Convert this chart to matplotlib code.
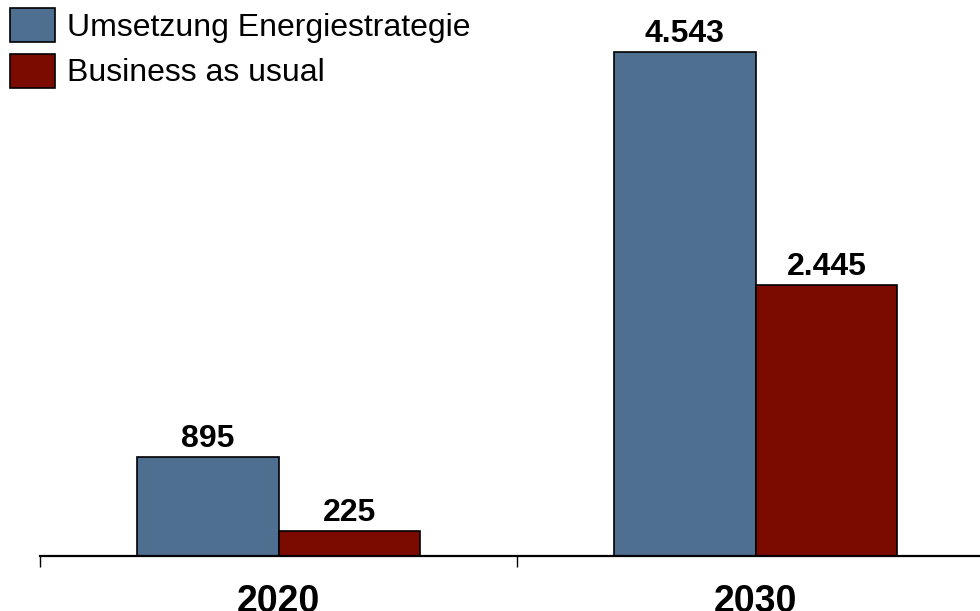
import matplotlib
matplotlib.use("Agg")
import matplotlib.pyplot as plt
from matplotlib.patches import Patch

years = ["2020", "2030"]
series_names = ["Umsetzung Energiestrategie", "Business as usual"]
umsetzung = [895, 4543]
business = [225, 2445]
colors = ["#4F6F91", "#7B0A00"]

def fmt(v):
    return f"{v:,}".replace(",", ".")

plt.rcParams["font.family"] = ["Liberation Sans", "DejaVu Sans"]

fig = plt.figure(figsize=(9.8, 6.11), dpi=100)
W, H = 980, 611
ax = fig.add_axes([40 / W, (H - 556) / H, 1 - 40 / W, 556 / H])

x = list(range(len(years)))
bw = 0.297
b1 = ax.bar([i - bw / 2 for i in x], umsetzung, bw, color=colors[0],
            edgecolor="black", linewidth=1.2, label=series_names[0])
b2 = ax.bar([i + bw / 2 for i in x], business, bw, color=colors[1],
            edgecolor="black", linewidth=1.2, label=series_names[1])

for bars, vals in ((b1, umsetzung), (b2, business)):
    ax.bar_label(bars, labels=[fmt(v) for v in vals], padding=2,
                 fontsize=23, fontweight="bold")

for s in ("top", "right", "left"):
    ax.spines[s].set_visible(False)
ax.spines["bottom"].set_linewidth(1.6)
ax.set_yticks([])

ax.set_xticks([-0.5, 0.5, 1.5])
ax.set_xticklabels([])
ax.tick_params(axis="x", which="major", length=8, width=1, direction="out")
ax.set_xticks(x, minor=True)
ax.set_xticklabels(years, minor=True, fontsize=27, fontweight="bold")
ax.tick_params(axis="x", which="minor", length=0, pad=20)

ax.set_xlim(-0.5, -0.5 + 940 / 477)
ax.set_ylim(0, 4543 * 556 / 504)

handles = [Patch(facecolor=colors[0], edgecolor="black", linewidth=1.2),
           Patch(facecolor=colors[1], edgecolor="black", linewidth=1.2)]
fig.legend(handles, series_names, loc="upper left",
           bbox_to_anchor=(10 / W, 1 - 8 / H), frameon=False, fontsize=23,
           handlelength=1.41, handleheight=1.26, handletextpad=0.38,
           labelspacing=0.345, borderpad=0, borderaxespad=0)

fig.savefig("out.png", dpi=100)
